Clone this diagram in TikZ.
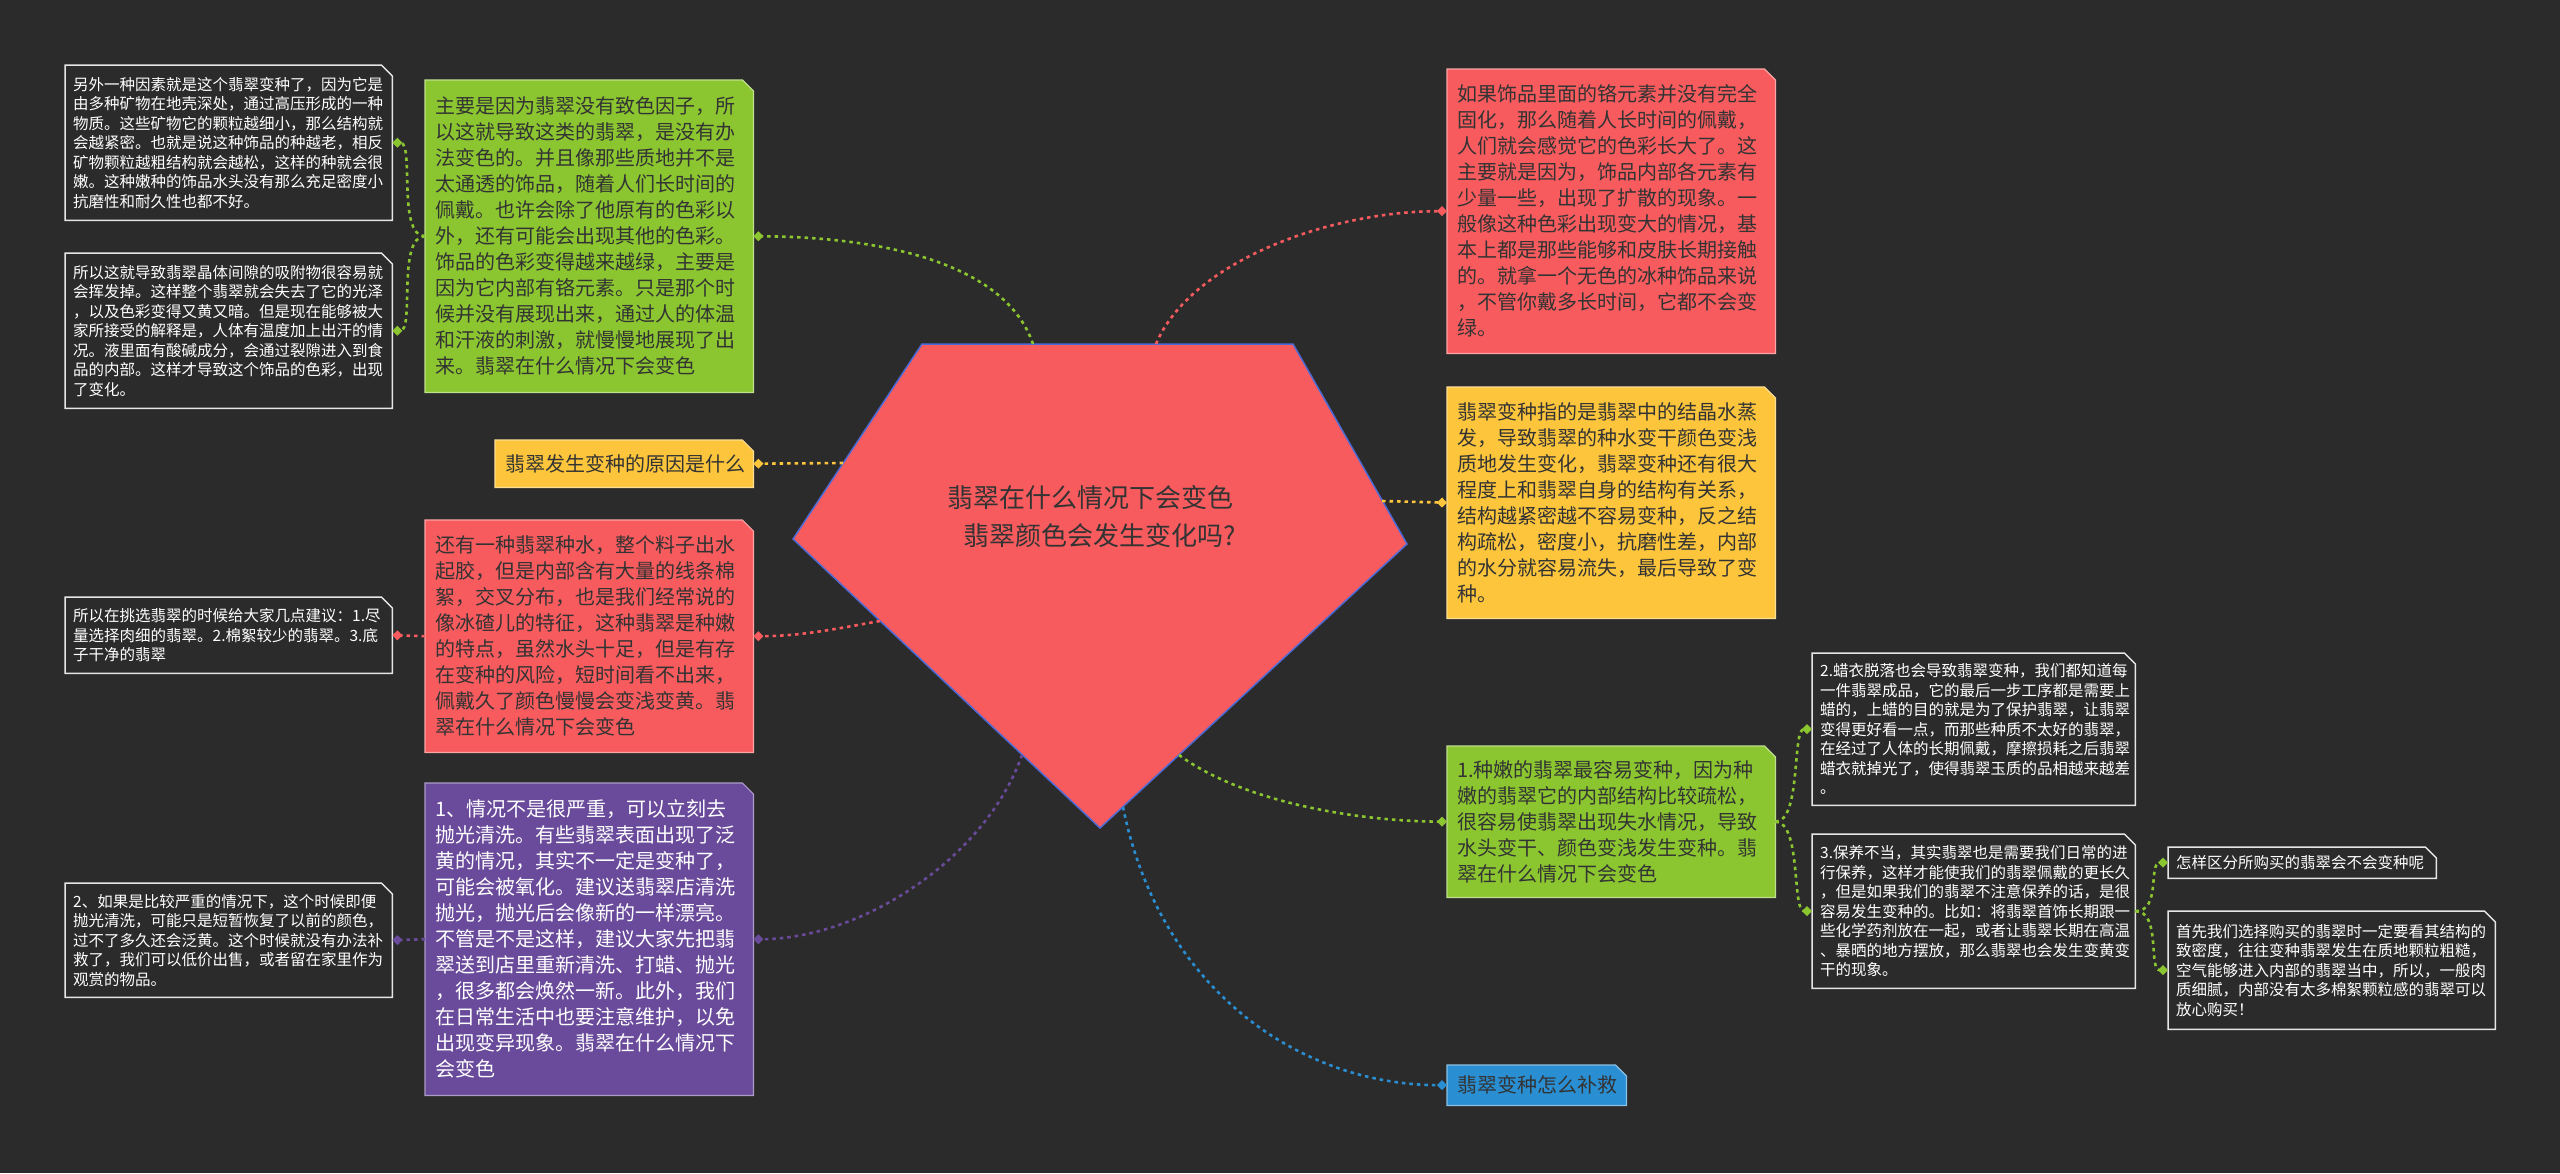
\documentclass[tikz,border=0pt]{standalone}
\usepackage{fontspec}
\setmainfont{Noto Sans CJK SC}
\usetikzlibrary{arrows.meta,backgrounds}
\definecolor{bgc}{HTML}{2B2B2B}
\definecolor{cgreen}{HTML}{8BC630}
\definecolor{cred}{HTML}{F85B5E}
\definecolor{cyellow}{HTML}{FCC53C}
\definecolor{cpurple}{HTML}{6A4B9B}
\definecolor{cblue}{HTML}{2A8ED2}
\definecolor{cedge}{HTML}{4D6BD6}
\definecolor{txt}{HTML}{333333}
\definecolor{boxline}{HTML}{E6E6E6}
\begin{document}
\begin{tikzpicture}[x=1pt,y=-1pt,
  cbox/.style={anchor=north west, inner xsep=10pt, inner ysep=0pt, align=left,
    font=\fontsize{20pt}{26pt}\selectfont, text=txt},
  dbox/.style={anchor=north west, inner xsep=8pt, inner ysep=0pt, align=left,
    font=\fontsize{15.5pt}{19.5pt}\selectfont, text=white},
  link/.style={line width=2.6pt, dash pattern=on 3.5pt off 4pt,
    -{Turned Square[length=10pt,width=10pt]}},
  rootfont/.style={font=\fontsize{26pt}{38pt}\selectfont, text=txt}]
\useasboundingbox (0,0) rectangle (2560,1173);

% central pentagon
\coordinate (pTL) at (922,344);
\coordinate (pTR) at (1293,344);
\coordinate (pR) at (1407,544);
\coordinate (pB) at (1100,828);
\coordinate (pL) at (793,539);
\filldraw[fill=cred, draw=cedge, line width=1.5pt] (pTL) -- (pTR) -- (pR) -- (pB) -- (pL) -- cycle;
\node[rootfont, anchor=west, align=left, inner sep=0pt] (root) at (947,517)
  {翡翠在什么情况下会变色\\\hspace*{16pt}翡翠颜色会发生变化吗?};

% start points on the pentagon
\coordinate (rC) at (1033,344);
\coordinate (rY) at (843,463);
\coordinate (rD) at (880,621);
\coordinate (rF) at (1022,755);
\coordinate (rH) at (1156,344);
\coordinate (rI) at (1382,501);
\coordinate (rJ) at (1179,755);
\coordinate (rBl) at (1123,807);

% left side
\node[dbox, minimum width=327pt, minimum height=155pt, text width=311pt] (A) at (65,65)
{另外一种因素就是这个翡翠变种了，因为它是\\
由多种矿物在地壳深处，通过高压形成的一种\\
物质。这些矿物它的颗粒越细小，那么结构就\\
会越紧密。也就是说这种饰品的种越老，相反\\
矿物颗粒越粗结构就会越松，这样的种就会很\\
嫩。这种嫩种的饰品水头没有那么充足密度小\\
抗磨性和耐久性也都不好。};

\node[dbox, minimum width=327pt, minimum height=155pt, text width=311pt] (B) at (65,253)
{所以这就导致翡翠晶体间隙的吸附物很容易就\\
会挥发掉。这样整个翡翠就会失去了它的光泽\\
，以及色彩变得又黄又暗。但是现在能够被大\\
家所接受的解释是，人体有温度加上出汗的情\\
况。液里面有酸碱成分，会通过裂隙进入到食\\
品的内部。这样才导致这个饰品的色彩，出现\\
了变化。};

\node[cbox, minimum width=328pt, minimum height=312pt, text width=308pt] (C) at (425,80)
{主要是因为翡翠没有致色因子，所\\
以这就导致这类的翡翠，是没有办\\
法变色的。并且像那些质地并不是\\
太通透的饰品，随着人们长时间的\\
佩戴。也许会除了他原有的色彩以\\
外，还有可能会出现其他的色彩。\\
饰品的色彩变得越来越绿，主要是\\
因为它内部有铬元素。只是那个时\\
候并没有展现出来，通过人的体温\\
和汗液的刺激，就慢慢地展现了出\\
来。翡翠在什么情况下会变色};

\node[cbox, minimum width=258pt, minimum height=47pt, text width=238pt] (Y) at (495,440)
{翡翠发生变种的原因是什么};

\node[cbox, minimum width=328pt, minimum height=232pt, text width=308pt] (D) at (425,520)
{还有一种翡翠种水，整个料子出水\\
起胶，但是内部含有大量的线条棉\\
絮，交叉分布，也是我们经常说的\\
像冰碴儿的特征，这种翡翠是种嫩\\
的特点，虽然水头十足，但是有存\\
在变种的风险，短时间看不出来，\\
佩戴久了颜色慢慢会变浅变黄。翡\\
翠在什么情况下会变色};

\node[dbox, minimum width=327pt, minimum height=76pt, text width=311pt] (E) at (65,597)
{所以在挑选翡翠的时候给大家几点建议：1.尽\\
量选择肉细的翡翠。2.棉絮较少的翡翠。3.底\\
子干净的翡翠};

\node[cbox, text=white, minimum width=328pt, minimum height=312pt, text width=308pt] (F) at (425,783)
{1、情况不是很严重，可以立刻去\\
抛光清洗。有些翡翠表面出现了泛\\
黄的情况，其实不一定是变种了，\\
可能会被氧化。建议送翡翠店清洗\\
抛光，抛光后会像新的一样漂亮。\\
不管是不是这样，建议大家先把翡\\
翠送到店里重新清洗、打蜡、抛光\\
，很多都会焕然一新。此外，我们\\
在日常生活中也要注意维护，以免\\
出现变异现象。翡翠在什么情况下\\
会变色};

\node[dbox, minimum width=327pt, minimum height=114pt, text width=311pt] (G) at (65,883)
{2、如果是比较严重的情况下，这个时候即便\\
抛光清洗，可能只是短暂恢复了以前的颜色，\\
过不了多久还会泛黄。这个时候就没有办法补\\
救了，我们可以低价出售，或者留在家里作为\\
观赏的物品。};

% right side
\node[cbox, minimum width=328pt, minimum height=284pt, text width=308pt] (H) at (1447,69)
{如果饰品里面的铬元素并没有完全\\
固化，那么随着人长时间的佩戴，\\
人们就会感觉它的色彩长大了。这\\
主要就是因为，饰品内部各元素有\\
少量一些，出现了扩散的现象。一\\
般像这种色彩出现变大的情况，基\\
本上都是那些能够和皮肤长期接触\\
的。就拿一个无色的冰种饰品来说\\
，不管你戴多长时间，它都不会变\\
绿。};

\node[cbox, minimum width=328pt, minimum height=231pt, text width=308pt] (I) at (1447,387)
{翡翠变种指的是翡翠中的结晶水蒸\\
发，导致翡翠的种水变干颜色变浅\\
质地发生变化，翡翠变种还有很大\\
程度上和翡翠自身的结构有关系，\\
结构越紧密越不容易变种，反之结\\
构疏松，密度小，抗磨性差，内部\\
的水分就容易流失，最后导致了变\\
种。};

\node[cbox, minimum width=328pt, minimum height=151pt, text width=308pt] (J) at (1447,746)
{1.种嫩的翡翠最容易变种，因为种\\
嫩的翡翠它的内部结构比较疏松，\\
很容易使翡翠出现失水情况，导致\\
水头变干、颜色变浅发生变种。翡\\
翠在什么情况下会变色};

\node[dbox, minimum width=323pt, minimum height=152pt, text width=307pt] (K) at (1812,653)
{2.蜡衣脱落也会导致翡翠变种，我们都知道每\\
一件翡翠成品，它的最后一步工序都是需要上\\
蜡的，上蜡的目的就是为了保护翡翠，让翡翠\\
变得更好看一点，而那些种质不太好的翡翠，\\
在经过了人体的长期佩戴，摩擦损耗之后翡翠\\
蜡衣就掉光了，使得翡翠玉质的品相越来越差\\
。};

\node[dbox, minimum width=323pt, minimum height=154pt, text width=307pt] (L) at (1812,834)
{3.保养不当，其实翡翠也是需要我们日常的进\\
行保养，这样才能使我们的翡翠佩戴的更长久\\
，但是如果我们的翡翠不注意保养的话，是很\\
容易发生变种的。比如：将翡翠首饰长期跟一\\
些化学药剂放在一起，或者让翡翠长期在高温\\
、暴晒的地方摆放，那么翡翠也会发生变黄变\\
干的现象。};

\node[dbox, minimum width=268pt, minimum height=31pt, text width=252pt] (M) at (2168,847)
{怎样区分所购买的翡翠会不会变种呢};

\node[dbox, minimum width=327pt, minimum height=118pt, text width=311pt] (N) at (2168,911)
{首先我们选择购买的翡翠时一定要看其结构的\\
致密度，往往变种翡翠发生在质地颗粒粗糙，\\
空气能够进入内部的翡翠当中，所以，一般肉\\
质细腻，内部没有太多棉絮颗粒感的翡翠可以\\
放心购买！};

\node[cbox, minimum width=179pt, minimum height=40pt, text width=159pt] (Bl) at (1447,1065)
{翡翠变种怎么补救};

% box shapes
\begin{scope}[on background layer]
\fill[bgc] (0,0) rectangle (2560,1173);
\foreach \n in {A,B,E,G,K,L,M,N}
  \filldraw[fill=bgc, draw=boxline, line width=1.5pt]
    (\n.south west) -- (\n.north west) -- ([xshift=-11pt]\n.north east)
    -- ([yshift=-11pt]\n.north east) -- (\n.south east) -- cycle;
\foreach \n/\f in {C/cgreen,Y/cyellow,D/cred,F/cpurple,H/cred,I/cyellow,J/cgreen,Bl/cblue}
  \filldraw[fill=\f, draw=\f!55!white, line width=1.2pt]
    (\n.south west) -- (\n.north west) -- ([xshift=-11pt]\n.north east)
    -- ([yshift=-11pt]\n.north east) -- (\n.south east) -- cycle;
\end{scope}

% connectors from the root
\draw[link, cgreen] (rC) .. controls (1005,262) and (880,237) .. (C.east);
\draw[link, cyellow] (rY) -- (Y.east);
\draw[link, cred] (rD) .. controls (830,630) and (800,636) .. (D.east);
\draw[link, cpurple] (rF) .. controls (985,860) and (860,939) .. (F.east);
\draw[link, cred] (rH) .. controls (1190,262) and (1330,211) .. (H.west);
\draw[link, cyellow] (rI) -- (I.west);
\draw[link, cgreen] (rJ) .. controls (1240,800) and (1350,821) .. (J.west);
\draw[link, cblue] (rBl) .. controls (1160,990) and (1300,1085) .. (Bl.west);

% connectors between boxes
\draw[link, cgreen] (C.west) .. controls +(-28,0) and +(22,0) .. (A.east);
\draw[link, cgreen] (C.west) .. controls +(-28,0) and +(22,0) .. (B.east);
\draw[link, cred] (D.west) -- (E.east);
\draw[link, cpurple] (F.west) -- (G.east);
\draw[link, cgreen] (J.east) .. controls +(26,0) and +(-20,0) .. (K.west);
\draw[link, cgreen] (J.east) .. controls +(26,0) and +(-20,0) .. (L.west);
\draw[link, cgreen] (L.east) .. controls +(26,0) and +(-20,0) .. (M.west);
\draw[link, cgreen] (L.east) .. controls +(26,0) and +(-20,0) .. (N.west);
\end{tikzpicture}
\end{document}
